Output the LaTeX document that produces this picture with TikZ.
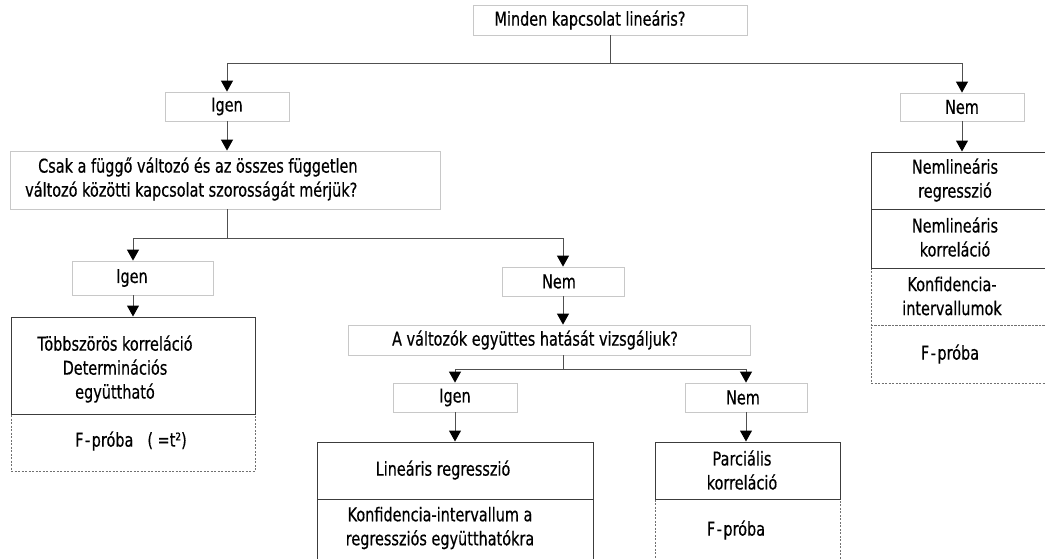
\documentclass[tikz,border=0pt]{standalone}
\usepackage{fontspec}
\setmainfont{DejaVu Sans}[FakeStretch=0.76, FakeBold=0.5]
\usetikzlibrary{arrows.meta}
\definecolor{qline}{HTML}{C8C8C8}
\definecolor{rline}{HTML}{3C3C3C}
\definecolor{dline}{HTML}{707070}
\definecolor{cline}{HTML}{505050}
\tikzset{
  every node/.style={font=\fontsize{19pt}{24pt}\selectfont, inner sep=0pt},
  qbox/.style={draw=qline, line width=0.8pt, fill=white, rectangle},
  rbox/.style={draw=rline, line width=1pt, rectangle},
  dbox/.style={draw=dline, line width=0.8pt, dash pattern=on 2pt off 1.5pt, rectangle},
  txt/.style={align=center},
  conn/.style={draw=cline, line width=1pt},
  arr/.style={conn, -{Triangle[width=12pt,length=11pt,color=black]}},
}
\begin{document}
\begin{tikzpicture}[x=1pt, y=-1pt]
\useasboundingbox (0,0) rectangle (1045,558);
\clip (0,0) rectangle (1045,558);

% question and answer boxes
\node[qbox, minimum width=274pt, minimum height=30pt] (top) at (610,20) {};
\node[txt] (top-t) at (590,20) {Minden kapcsolat lineáris?};
\node[qbox, minimum width=124pt, minimum height=29pt] (igen1) at (227,106.5) {Igen};
\node[qbox, minimum width=124pt, minimum height=28pt] (nemR) at (962,107) {Nem};
\node[qbox, minimum width=430pt, minimum height=58pt] (csak) at (225,180) {};
\node[align=left, anchor=west] (csak-t) at (25,179)
  {\hspace*{13pt}Csak a függő változó és az összes független\\változó közötti kapcsolat szorosságát mérjük?};
\node[qbox, minimum width=141pt, minimum height=34pt] (igen2) at (142.5,278) {};
\node[txt] (igen2-t) at (132,278) {Igen};
\node[qbox, minimum width=122pt, minimum height=29pt] (nem2) at (563,281.5) {};
\node[txt] (nem2-t) at (559,281.5) {Nem};
\node[qbox, minimum width=402pt, minimum height=30pt] (avalt) at (549,340) {};
\node[txt] (avalt-t) at (535,340) {A változók együttes hatását vizsgáljuk?};
\node[qbox, minimum width=124pt, minimum height=29pt] (igen3) at (455,397.5) {Igen};
\node[qbox, minimum width=122pt, minimum height=29pt] (nem3) at (746,397.5) {};
\node[txt] (nem3-t) at (743,397.5) {Nem};

% dashed result boxes
\node[dbox, minimum width=244pt, minimum height=57pt] (tobbF) at (133,442.5) {};
\node[txt] (tobbF-t) at (131,441) {F\kern1.5pt-\kern1.5ptpróba\hspace{14pt}( =t²)};
\node[dbox, minimum width=185pt, minimum height=81pt] (parcF) at (747.5,539.5) {};
\node[txt] (parcF-t) at (736,530) {F\kern1.5pt-\kern1.5ptpróba};
\node[dbox, minimum width=194pt, minimum height=57pt] (konf) at (968,296.5) {};
\node[txt] (konf-t) at (952,296) {Konfidencia-\\intervallumok};
\node[dbox, minimum width=194pt, minimum height=58pt] (nF) at (968,354) {};
\node[txt] (nF-t) at (950,354) {F\kern1.5pt-\kern1.5ptpróba};

% solid result boxes
\node[rbox, minimum width=244pt, minimum height=97pt] (tobb) at (133,365.5) {};
\node[txt] (tobb-t) at (115,369) {Többszörös korreláció\\Determinációs\\együttható};
\node[rbox, minimum width=276pt, minimum height=57pt] (lin) at (455,470.5) {};
\node[txt] (lin-t) at (443,470) {Lineáris regresszió};
\node[rbox, minimum width=276pt, minimum height=81pt] (linK) at (455,539.5) {};
\node[txt] (linK-t) at (440,528) {Konfidencia-intervallum a\\regressziós együtthatókra};
\node[rbox, minimum width=185pt, minimum height=57pt] (parc) at (747.5,470.5) {};
\node[txt] (parc-t) at (742,470) {Parciális\\korreláció};
\node[rbox, minimum width=194pt, minimum height=57pt] (nlr) at (968,180.5) {};
\node[txt] (nlr-t) at (955,180) {Nemlineáris\\regresszió};
\node[rbox, minimum width=194pt, minimum height=59pt] (nlk) at (968,238.5) {};
\node[txt] (nlk-t) at (955,237) {Nemlineáris\\korreláció};

% connectors
\coordinate (j1) at (610,63);
\draw[conn] (top.south) -- (j1);
\draw[arr] (j1) -| (igen1.north);
\draw[arr] (j1) -| (nemR.north);
\draw[arr] (igen1.south) -- (igen1.south |- csak.north);
\draw[arr] (nemR.south) -- (nemR.south |- nlr.north);

\coordinate (j2) at (227,238);
\coordinate (a2) at (133,238);
\coordinate (b2) at (563,238);
\draw[conn] (j2 |- csak.south) -- (j2);
\draw[arr] (j2) -- (a2) -- (a2 |- igen2.north);
\draw[arr] (j2) -- (b2) -- (b2 |- nem2.north);
\draw[arr] (a2 |- igen2.south) -- (a2 |- tobb.north);
\draw[arr] (b2 |- nem2.south) -- (b2 |- avalt.north);

\coordinate (j3) at (563,369);
\draw[conn] (j3 |- avalt.south) -- (j3);
\draw[arr] (j3) -| (igen3.north);
\draw[arr] (j3) -| (nem3.north);
\draw[arr] (igen3.south) -- (igen3.south |- lin.north);
\draw[arr] (nem3.south) -- (nem3.south |- parc.north);
\end{tikzpicture}
\end{document}
